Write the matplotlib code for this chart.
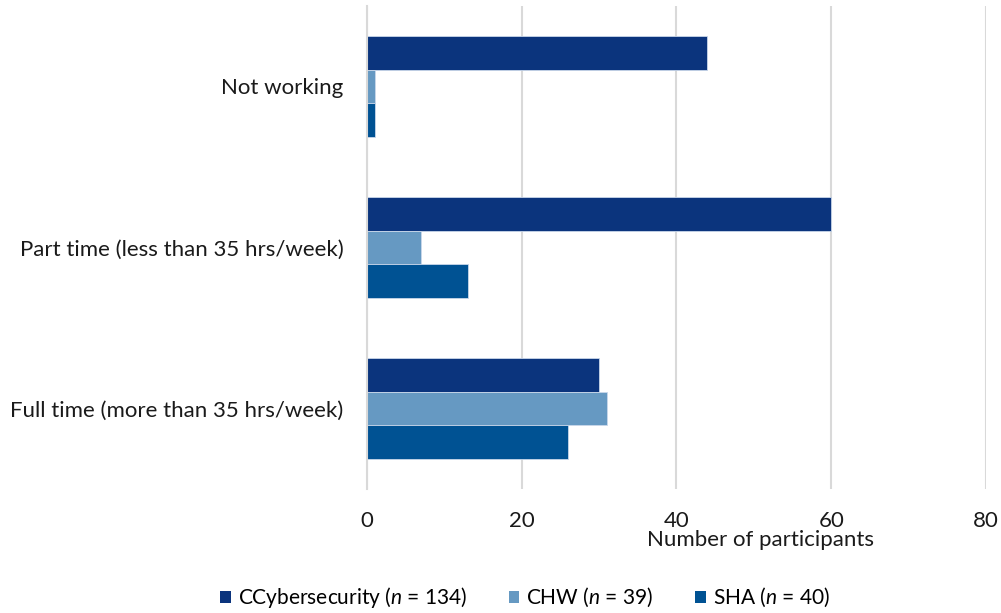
import numpy as np
import matplotlib
matplotlib.use("Agg")
import matplotlib.pyplot as plt
from matplotlib.patches import Patch

plt.rcParams['font.family'] = ['Lato', 'DejaVu Sans']
plt.rcParams['mathtext.fontset'] = 'custom'
plt.rcParams['mathtext.it'] = 'Lato:italic'
plt.rcParams['mathtext.rm'] = 'Lato'

# 就业状态类别（自下而上）
categories = ['Full time (more than 35 hrs/week)',
              'Part time (less than 35 hrs/week)',
              'Not working']
cyber = [30, 60, 44]
chw = [31, 7, 1]
sha = [26, 13, 1]

series_labels = ['CCybersecurity ($n$ = 134)', 'CHW ($n$ = 39)', 'SHA ($n$ = 40)']
colors = ['#0B347D', '#6699C2', '#005293']
x_ticks = [0, 20, 40, 60, 80]

fig = plt.figure(figsize=(10.01, 6.13), dpi=100)
ax = fig.add_axes([0.3666, 0.2023, 0.6184, 0.788])

y = np.arange(len(categories))
h = 0.208
for vals, off, c in zip([cyber, chw, sha], [h, 0, -h], colors):
    ax.barh(y + off, vals, height=h, color=c, edgecolor='#C9D7EA', linewidth=0.6)

ax.set_ylim(-0.5, 2.5)
ax.set_xlim(0, 80)
ax.set_yticks(y)
ax.set_yticklabels(categories, fontsize=16, color='#1a1a1a')
ax.set_xticks(x_ticks)
ax.set_xticklabels([str(t) for t in x_ticks], fontsize=16, color='#1a1a1a')
ax.tick_params(axis='both', length=0)
ax.tick_params(axis='x', pad=16)
ax.tick_params(axis='y', pad=17)

ax.xaxis.grid(True, color='#D9D9D9', linewidth=1.5)
ax.set_axisbelow(True)
for s in ['top', 'right', 'bottom']:
    ax.spines[s].set_visible(False)
ax.spines['left'].set_color('#D9D9D9')
ax.spines['left'].set_linewidth(1.5)

# 横轴标题略偏右
ax.set_xlabel('Number of participants', fontsize=16, color='#1a1a1a', labelpad=0)
ax.xaxis.set_label_coords(0.635, -0.085)

handles = [Patch(facecolor=c) for c in colors]
fig.legend(handles, series_labels, loc='center', bbox_to_anchor=(0.5245, 0.025),
           ncol=3, frameon=False, fontsize=15, handlelength=0.5, handleheight=0.5,
           handletextpad=0.35, columnspacing=2.0)

fig.savefig('out.png', dpi=100)
